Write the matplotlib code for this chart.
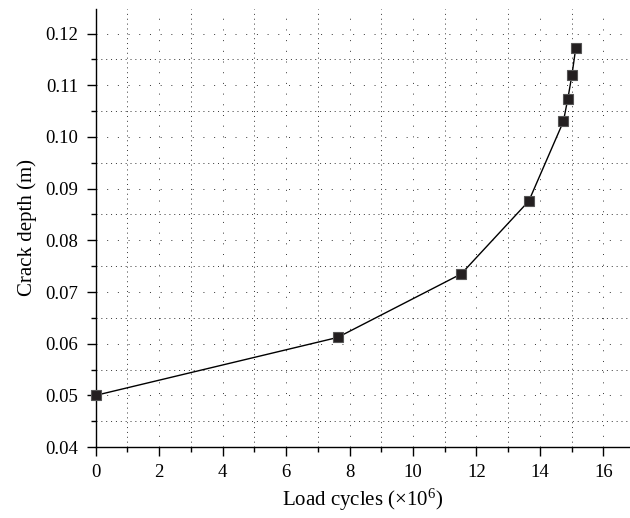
import matplotlib
matplotlib.use('Agg')
import matplotlib.pyplot as plt
from matplotlib.ticker import MultipleLocator

# values
load_cycles = [0, 7.62, 11.52, 13.65, 14.74, 14.88, 15.01, 15.13]   # x10^6
crack_depth = [0.050, 0.0612, 0.0735, 0.0876, 0.1030, 0.1074, 0.1120, 0.1172]  # m

plt.rcParams['font.family'] = ['Liberation Serif', 'DejaVu Serif']
plt.rcParams['mathtext.fontset'] = 'custom'
plt.rcParams['mathtext.rm'] = 'Liberation Serif'
plt.rcParams['mathtext.it'] = 'Liberation Serif:italic'

fig = plt.figure(figsize=(6.3, 5.18), dpi=100)
ax = fig.add_axes([0.152, 0.137, 0.846, 0.846])

ax.plot(load_cycles, crack_depth, color='black', linewidth=1.0, marker='s',
        markersize=7.5, markerfacecolor='#231f20', markeredgecolor='#555555',
        markeredgewidth=0.8, zorder=3, clip_on=False)

ax.set_xlim(0, 16.8)
ax.set_ylim(0.04, 0.1248)
ax.xaxis.set_major_locator(MultipleLocator(2))
ax.xaxis.set_minor_locator(MultipleLocator(1))
ax.yaxis.set_major_locator(MultipleLocator(0.01))
ax.yaxis.set_minor_locator(MultipleLocator(0.005))
ax.yaxis.set_major_formatter(plt.FormatStrFormatter('%.2f'))

# sparse dots on major lines, dense dots on minor ones
ax.grid(which='major', color='#333333', linewidth=0.7, linestyle=(0, (1, 10)))
ax.grid(which='minor', color='#333333', linewidth=0.7, linestyle=(0, (1, 4)))
ax.set_axisbelow(True)

for s in ['top', 'right']:
    ax.spines[s].set_visible(False)
for s in ['left', 'bottom']:
    ax.spines[s].set_linewidth(1.0)

ax.tick_params(which='major', direction='out', length=6.5, width=1.0, labelsize=13.5, pad=6)
ax.tick_params(which='minor', direction='out', length=3.5, width=1.0)

ax.set_xlabel(r'Load cycles ($\times$10$^{6}$)', fontsize=15, labelpad=4)
ax.set_ylabel('Crack depth (m)', fontsize=15, labelpad=6)

fig.savefig('out.png', dpi=100)
